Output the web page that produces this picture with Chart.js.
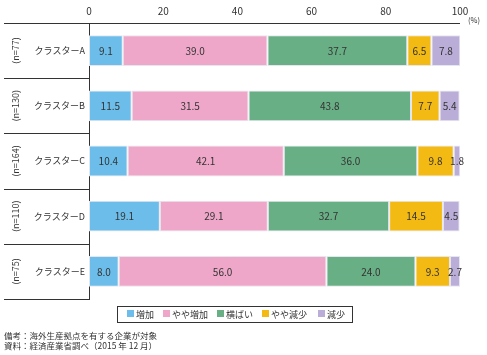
<!DOCTYPE html>
<html><head><meta charset="utf-8">
<script src="https://cdn.jsdelivr.net/npm/chart.js@4"></script>
<style>html,body{margin:0;padding:0;background:#fff;}#wrap{position:relative;width:487px;height:355px;}</style>
</head><body><div id="wrap"><canvas id="c" width="487" height="355"></canvas></div>
<script>
const categories = ['クラスターA','クラスターB','クラスターC','クラスターD','クラスターE'];
const sampleSizes = ['(n=77)','(n=130)','(n=164)','(n=110)','(n=75)'];
const seriesNames = ['増加','やや増加','横ばい','やや減少','減少'];
const increase = [9.1, 11.5, 10.4, 19.1, 8.0];
const slightIncrease = [39.0, 31.5, 42.1, 29.1, 56.0];
const flat = [37.7, 43.8, 36.0, 32.7, 24.0];
const slightDecrease = [6.5, 7.7, 9.8, 14.5, 9.3];
const decrease = [7.8, 5.4, 1.8, 4.5, 2.7];
const xTicks = [0, 20, 40, 60, 80, 100];
const notes = ['備考：海外生産拠点を有する企業が対象','資料：経済産業省調べ（2015 年 12 月）'];
const colors = ['#6cbdea','#efa7c9','#69af85','#f3ba14','#baadd7'];
const FONT = '"Noto Sans CJK JP", "Noto Sans", sans-serif';
const values = [increase, slightIncrease, flat, slightDecrease, decrease];

const overlay = {
  id: 'overlay',
  afterDatasetsDraw(chart) {
    const ctx = chart.ctx, ca = chart.chartArea, x = chart.scales.x, y = chart.scales.y;
    ctx.save();
    // value labels
    ctx.font = '10px ' + FONT; ctx.fillStyle = '#333'; ctx.textAlign = 'center'; ctx.textBaseline = 'middle';
    chart.data.datasets.forEach((ds, di) => {
      const meta = chart.getDatasetMeta(di);
      meta.data.forEach((bar, i) => {
        const cx = (bar.x + bar.base) / 2;
        ctx.fillText(ds.data[i].toFixed(1), cx, bar.y + 0.5);
      });
    });
    // lines
    ctx.strokeStyle = '#333'; ctx.lineWidth = 1;
    ctx.beginPath();
    ctx.moveTo(4, Math.round(ca.top) + 0.5); ctx.lineTo(x.getPixelForValue(100), Math.round(ca.top) + 0.5);
    const step = (y.getPixelForValue(1) - y.getPixelForValue(0));
    for (let i = 0; i < categories.length; i++) {
      const yy = Math.round(y.getPixelForValue(i) + step / 2) + 0.5;
      ctx.moveTo(4, yy); ctx.lineTo(ca.left, yy);
    }
    ctx.stroke();
    // n labels rotated
    ctx.font = '9px ' + FONT; ctx.fillStyle = '#333';
    sampleSizes.forEach((s, i) => {
      ctx.save();
      ctx.translate(16, y.getPixelForValue(i));
      ctx.rotate(-Math.PI / 2);
      ctx.textAlign = 'center'; ctx.textBaseline = 'middle';
      ctx.fillText(s, 0, 0);
      ctx.restore();
    });
    // (%)
    ctx.textAlign = 'left'; ctx.font = '7.5px ' + FONT;
    ctx.fillText('(%)', 468, 20);
    // legend
    ctx.strokeStyle = '#333';
    ctx.strokeRect(117.5, 306.5, 235, 16);
    const lx = [127, 163, 217, 262, 318];
    ctx.font = '9px ' + FONT; ctx.textBaseline = 'middle';
    seriesNames.forEach((n, i) => {
      ctx.fillStyle = colors[i];
      ctx.fillRect(lx[i], 310, 7, 7);
      ctx.fillStyle = '#333';
      ctx.fillText(n, lx[i] + 9, 314.5);
    });
    // notes
    ctx.font = '8.5px ' + FONT; ctx.textBaseline = 'middle';
    ctx.fillText(notes[0], 4, 335.5);
    ctx.fillText(notes[1], 4, 346);
    ctx.restore();
  }
};

new Chart(document.getElementById('c'), {
  type: 'bar',
  data: {
    labels: categories,
    datasets: seriesNames.map((n, i) => ({
      label: n, data: values[i], backgroundColor: colors[i],
      borderColor: '#e6e6ee', borderWidth: 1, borderSkipped: false,
      barPercentage: 0.9, categoryPercentage: 0.62
    }))
  },
  options: {
    indexAxis: 'y', responsive: false, animation: false,
    layout: { padding: { left: 0, right: 27, top: 0, bottom: 56 } },
    plugins: { legend: { display: false }, tooltip: { enabled: false } },
    scales: {
      x: {
        stacked: true, position: 'top', min: 0, max: 100,
        afterBuildTicks(s) { s.ticks = xTicks.map(v => ({ value: v })); },
        afterFit(s) { s.height = 23; },
        grid: { display: false, drawTicks: false },
        border: { display: false },
        ticks: { padding: 6, color: '#333', font: { size: 10, family: FONT } }
      },
      y: {
        stacked: true,
        afterFit(s) { s.width = 89; },
        grid: { display: false, drawTicks: false },
        border: { display: true, color: '#333', width: 1 },
        ticks: { padding: 4, color: '#333', font: { size: 9, family: FONT } }
      }
    }
  },
  plugins: [overlay]
});
</script></body></html>
